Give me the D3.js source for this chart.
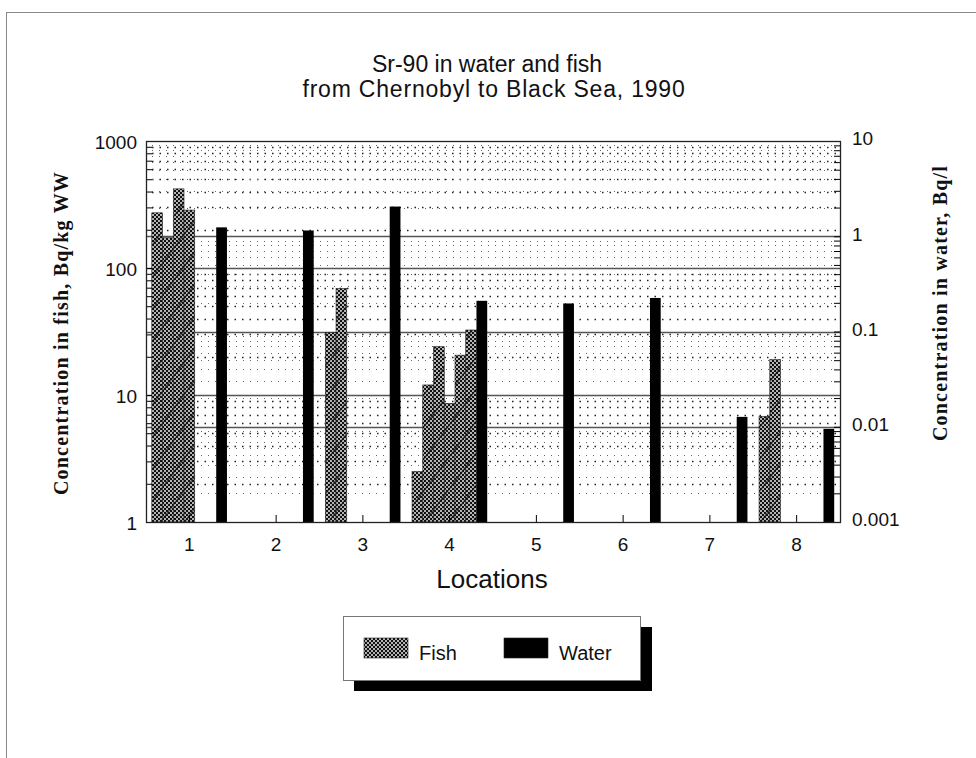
<!DOCTYPE html>
<html>
<head>
<meta charset="utf-8">
<script src="https://cdn.jsdelivr.net/npm/d3@7"></script>
<style>
  body { margin: 0; background: #fff; }
  text { font-family: 'Liberation Sans', Arial, Helvetica, sans-serif; fill: #111; }
  .axisTitle { font-family: 'Liberation Serif', 'Times New Roman', serif; font-weight: bold; font-size: 20px; letter-spacing: 1.2px; }
</style>
</head>
<body>
<script>
var width = 976;
var height = 758;
var margin = { top: 141, right: 136, bottom: 236, left: 146 };

// locations along the river, Chernobyl -> Black Sea
var locations = ['1', '2', '3', '4', '5', '6', '7', '8'];

// Sr-90 in fish samples, Bq/kg WW (one array per sample, null = no sample)
var fish1 = [272, null, 31, 2.5, null, null, null, 6.8];
var fish2 = [173, null, 69, 12, null, null, null, 19];
var fish3 = [420, null, null, 24, null, null, null, null];
var fish4 = [286, null, null, 8.6, null, null, null, null];
var fish5 = [null, null, null, 20.6, null, null, null, null];
var fish6 = [null, null, null, 32.5, null, null, null, null];

// Sr-90 in water, Bq/l
var water = [1.24, 1.15, 2.05, 0.21, 0.197, 0.225, 0.0127, 0.0095];

var fishTicks = [1, 10, 100, 1000];
var waterTicks = [0.001, 0.01, 0.1, 1, 10];

var series = [
  { key: 'fish1', type: 'fish', values: fish1 },
  { key: 'fish2', type: 'fish', values: fish2 },
  { key: 'fish3', type: 'fish', values: fish3 },
  { key: 'fish4', type: 'fish', values: fish4 },
  { key: 'fish5', type: 'fish', values: fish5 },
  { key: 'fish6', type: 'fish', values: fish6 },
  { key: 'water', type: 'water', values: water }
];

var x0 = margin.left;
var x1 = width - margin.right;
var y0 = height - margin.bottom;
var y1 = margin.top;

// scale per location e per campione dentro il gruppo
var xLoc = d3.scaleBand().domain(locations).range([x0, x1]);
var xSeries = d3.scaleBand().domain(series.map(function (s) { return s.key; }))
  .range([0, xLoc.bandwidth()]).paddingInner(0).paddingOuter(0.54);

var yFish = d3.scaleLog().domain([1, 1000]).range([y0, y1]);
var yWater = d3.scaleLog().domain([0.001, 10]).range([y0, y1]);

var svg = d3.select('body').append('svg')
  .attr('width', width)
  .attr('height', height);

// retino per le barre del pesce
var defs = svg.append('defs');
var checker = defs.append('pattern')
  .attr('id', 'checker')
  .attr('patternUnits', 'userSpaceOnUse')
  .attr('width', 4).attr('height', 4);
checker.append('rect').attr('width', 4).attr('height', 4).attr('fill', '#b4b4b4');
checker.append('rect').attr('width', 2).attr('height', 2).attr('fill', '#111');
checker.append('rect').attr('x', 2).attr('y', 2).attr('width', 2).attr('height', 2).attr('fill', '#111');

var fishFill = defs.append('pattern')
  .attr('id', 'fishFill')
  .attr('patternUnits', 'userSpaceOnUse')
  .attr('width', 24).attr('height', 32);
fishFill.append('rect').attr('width', 24).attr('height', 32).attr('fill', 'url(#checker)');
fishFill.append('line')
  .attr('x1', 0).attr('y1', 32).attr('x2', 24).attr('y2', 0)
  .style('stroke', '#111').style('stroke-width', 1.2).style('opacity', 0.7);

// cornice esterna
svg.append('rect')
  .attr('x', 6.5).attr('y', 12.5)
  .attr('width', width + 10).attr('height', height + 10)
  .style('fill', 'none').style('stroke', '#8a8a8a').style('stroke-width', 1);

// titolo
svg.append('text')
  .attr('x', 487).attr('y', 72)
  .attr('text-anchor', 'middle')
  .style('font-size', '23px')
  .text('Sr-90 in water and fish');
svg.append('text')
  .attr('x', 494).attr('y', 97)
  .attr('text-anchor', 'middle')
  .style('font-size', '23px')
  .style('letter-spacing', '0.8px')
  .text('from Chernobyl to Black Sea, 1990');

// griglia: tratteggiata sui valori minori, continua sulle decadi
var grid = svg.append('g').attr('class', 'grid');
var minorFish = yFish.ticks().filter(function (d) { return fishTicks.indexOf(d) < 0; });
var minorWater = yWater.ticks().filter(function (d) { return waterTicks.indexOf(d) < 0; });

grid.selectAll('line.minorFish')
  .data(minorFish)
  .enter()
  .append('line')
  .attr('class', 'minorFish')
  .attr('x1', x0 + 6).attr('x2', x1 - 4)
  .attr('y1', function (d) { return Math.round(yFish(d)) + 0.5; })
  .attr('y2', function (d) { return Math.round(yFish(d)) + 0.5; })
  .style('stroke', '#222')
  .style('stroke-width', 1.4)
  .style('stroke-dasharray', '1.5,6');

grid.selectAll('line.minorWater')
  .data(minorWater)
  .enter()
  .append('line')
  .attr('class', 'minorWater')
  .attr('x1', x0 + 6).attr('x2', x1 - 4)
  .attr('y1', function (d) { return Math.round(yWater(d)) + 0.5; })
  .attr('y2', function (d) { return Math.round(yWater(d)) + 0.5; })
  .style('stroke', '#666')
  .style('stroke-width', 1)
  .style('stroke-dasharray', '1,6');

grid.selectAll('line.majorFish')
  .data(fishTicks.slice(1, 3))
  .enter()
  .append('line')
  .attr('class', 'majorFish')
  .attr('x1', x0).attr('x2', x1)
  .attr('y1', function (d) { return Math.round(yFish(d)) + 0.5; })
  .attr('y2', function (d) { return Math.round(yFish(d)) + 0.5; })
  .style('stroke', '#555')
  .style('stroke-width', 1.4);

grid.selectAll('line.majorWater')
  .data(waterTicks.slice(1, 4))
  .enter()
  .append('line')
  .attr('class', 'majorWater')
  .attr('x1', x0).attr('x2', x1)
  .attr('y1', function (d) { return Math.round(yWater(d)) + 0.5; })
  .attr('y2', function (d) { return Math.round(yWater(d)) + 0.5; })
  .style('stroke', '#555')
  .style('stroke-width', 1.4);

// barre
var bars = [];
series.forEach(function (s) {
  s.values.forEach(function (v, i) {
    if (v != null) bars.push({ key: s.key, type: s.type, loc: locations[i], value: v });
  });
});

svg.append('g').attr('class', 'bars')
  .selectAll('rect')
  .data(bars)
  .enter()
  .append('rect')
  .attr('x', function (d) { return xLoc(d.loc) + xSeries(d.key); })
  .attr('width', xSeries.bandwidth())
  .attr('y', function (d) { return d.type === 'fish' ? yFish(d.value) : yWater(d.value); })
  .attr('height', function (d) { return y0 - (d.type === 'fish' ? yFish(d.value) : yWater(d.value)); })
  .style('fill', function (d) { return d.type === 'fish' ? 'url(#fishFill)' : '#000'; })
  .style('stroke', '#222')
  .style('stroke-width', function (d) { return d.type === 'fish' ? 0.6 : 0; });

// asse sinistro: tacche interne + etichette
svg.append('g')
  .attr('transform', 'translate(' + x0 + ',0)')
  .call(d3.axisRight(yFish).tickValues(yFish.ticks()).tickFormat('').tickSize(6))
  .call(function (g) { g.select('.domain').remove(); });
svg.append('g')
  .attr('transform', 'translate(' + x0 + ',0)')
  .call(d3.axisLeft(yFish).tickValues(fishTicks).tickFormat(d3.format('d')).tickSize(0).tickPadding(9))
  .call(function (g) {
    g.select('.domain').remove();
    g.selectAll('text').style('font-size', '19px').attr('dy', '0.38em')
      .style('font-family', "'Liberation Sans', Arial, sans-serif").style('fill', '#111');
  });

// asse destro
svg.append('g')
  .attr('transform', 'translate(' + x1 + ',0)')
  .call(d3.axisLeft(yWater).tickValues(yWater.ticks()).tickFormat('').tickSize(6))
  .call(function (g) { g.select('.domain').remove(); });
svg.append('g')
  .attr('transform', 'translate(' + x1 + ',0)')
  .call(d3.axisRight(yWater).tickValues(waterTicks).tickFormat(function (d) { return String(d); }).tickSize(0).tickPadding(12))
  .call(function (g) {
    g.select('.domain').remove();
    g.selectAll('text').style('font-size', '19px').attr('dy', '0.2em')
      .style('font-family', "'Liberation Sans', Arial, sans-serif").style('fill', '#111');
  });

// asse x
svg.append('g')
  .attr('transform', 'translate(0,' + y0 + ')')
  .call(d3.axisTop(xLoc).tickSize(7).tickFormat(''))
  .call(function (g) { g.select('.domain').remove(); });
svg.append('g')
  .attr('transform', 'translate(0,' + y0 + ')')
  .call(d3.axisBottom(xLoc).tickSize(0).tickPadding(16))
  .call(function (g) {
    g.select('.domain').remove();
    g.selectAll('text').style('font-size', '19px')
      .style('font-family', "'Liberation Sans', Arial, sans-serif").style('fill', '#111');
  });

// bordo dell'area del grafico
svg.append('rect')
  .attr('x', x0 + 0.5).attr('y', y1 + 0.5)
  .attr('width', x1 - x0).attr('height', y0 - y1)
  .style('fill', 'none').style('stroke', '#222').style('stroke-width', 1.3);

// titoli degli assi
svg.append('text')
  .attr('class', 'axisTitle')
  .attr('transform', 'translate(68,' + 333 + ') rotate(-90)')
  .attr('text-anchor', 'middle')
  .text('Concentration in fish, Bq/kg WW');

svg.append('text')
  .attr('class', 'axisTitle')
  .attr('transform', 'translate(947,' + 303 + ') rotate(-90)')
  .attr('text-anchor', 'middle')
  .text('Concentration in water, Bq/l');

svg.append('text')
  .attr('x', 492).attr('y', 588)
  .attr('text-anchor', 'middle')
  .style('font-size', '26px')
  .text('Locations');

// legenda con ombra
var legend = svg.append('g').attr('transform', 'translate(343,616)');
legend.append('rect')
  .attr('x', 11).attr('y', 11)
  .attr('width', 298).attr('height', 64)
  .style('fill', '#000');
legend.append('rect')
  .attr('x', 0.5).attr('y', 0.5)
  .attr('width', 297).attr('height', 64)
  .style('fill', '#fff').style('stroke', '#777').style('stroke-width', 1);

var legendItems = [
  { label: 'Fish', fill: 'url(#checker)', x: 21 },
  { label: 'Water', fill: '#000', x: 161 }
];
legend.selectAll('rect.swatch')
  .data(legendItems)
  .enter()
  .append('rect')
  .attr('class', 'swatch')
  .attr('x', function (d) { return d.x; })
  .attr('y', 22)
  .attr('width', 44).attr('height', 20)
  .style('fill', function (d) { return d.fill; })
  .style('stroke', '#222').style('stroke-width', 0.6);
legend.selectAll('text.label')
  .data(legendItems)
  .enter()
  .append('text')
  .attr('class', 'label')
  .attr('x', function (d) { return d.x + 55; })
  .attr('y', 44)
  .style('font-size', '20px')
  .text(function (d) { return d.label; });
</script>
</body>
</html>
